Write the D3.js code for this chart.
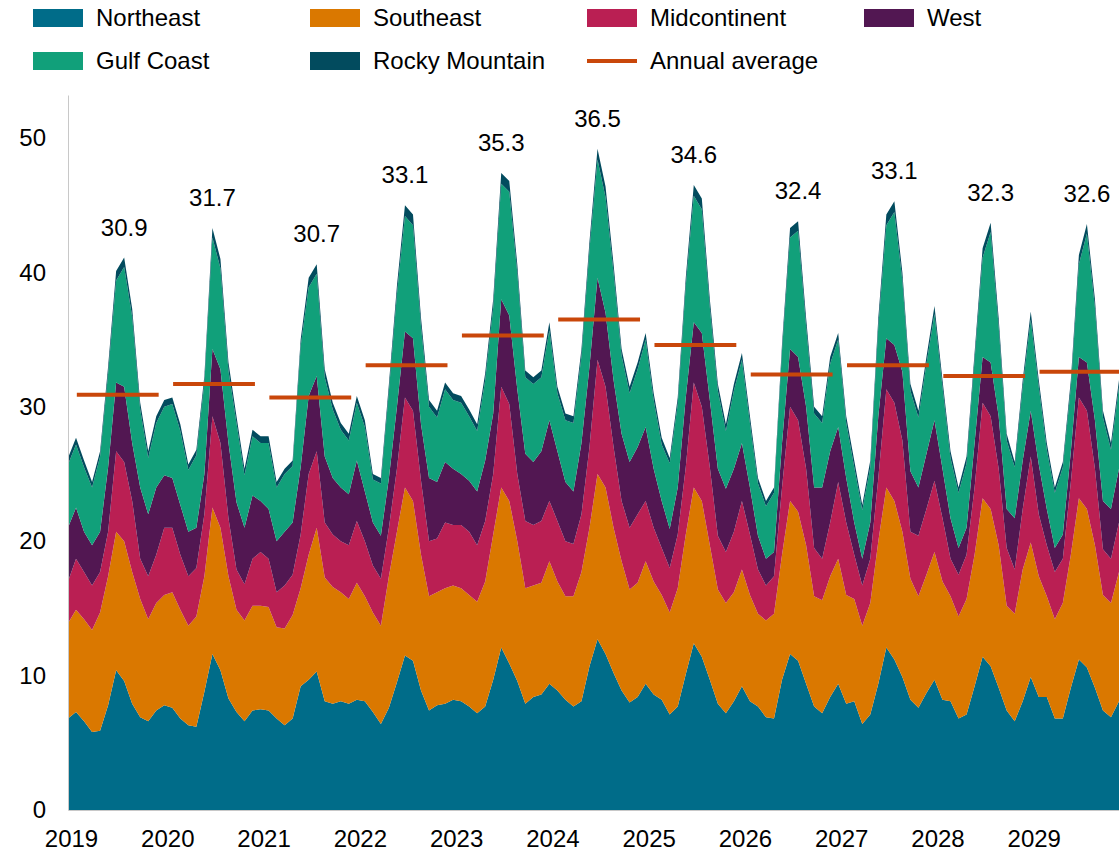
<!DOCTYPE html>
<html>
<head>
<meta charset="utf-8">
<script src="https://cdn.jsdelivr.net/npm/d3@7"></script>
<style>
  body { margin: 0; background: #fff; }
  text { font-family: "Liberation Sans", Arial, sans-serif; fill: #000; }
</style>
</head>
<body>
<div id="chart"></div>
<script>
// monthly values, Jan 2019 .. Dec 2029
var years = [2019, 2020, 2021, 2022, 2023, 2024, 2025, 2026, 2027, 2028, 2029];

var northeast = [
  6.8, 7.3, 6.6, 5.8, 5.9, 7.8, 10.4, 9.6, 7.9, 6.9, 6.6, 7.4,
  7.8, 7.6, 6.8, 6.3, 6.2, 8.8, 11.6, 10.4, 8.3, 7.3, 6.6, 7.4,
  7.5, 7.4, 6.8, 6.3, 6.8, 9.2, 9.7, 10.3, 8.1, 7.9, 8.1, 7.9,
  8.2, 8.1, 7.3, 6.4, 7.6, 9.5, 11.5, 11.1, 8.9, 7.4, 7.8, 7.9,
  8.2, 8.1, 7.7, 7.2, 7.7, 9.7, 12.1, 10.9, 9.6, 7.9, 8.4, 8.6,
  9.4, 8.9, 8.2, 7.7, 8.1, 10.7, 12.7, 11.6, 10.2, 8.9, 8.0, 8.4,
  9.4, 8.6, 8.2, 7.1, 7.7, 10.1, 12.4, 11.4, 9.7, 7.9, 7.2, 8.1,
  9.2, 8.1, 7.7, 6.9, 6.8, 9.7, 11.6, 11.1, 9.4, 7.7, 7.2, 8.4,
  9.4, 7.9, 8.1, 6.4, 7.1, 9.4, 12.1, 11.2, 9.9, 8.2, 7.6, 8.7,
  9.7, 8.2, 8.1, 6.8, 7.1, 9.2, 11.4, 10.7, 9.1, 7.4, 6.6, 8.1,
  9.9, 8.4, 8.4, 6.8, 6.8, 9.1, 11.2, 10.6, 9.1, 7.4, 6.9, 8.1
];
var southeast = [
  7.1, 7.6, 7.6, 7.6, 8.8, 9.6, 10.3, 10.4, 9.8, 8.8, 7.6, 8.0,
  8.2, 8.6, 8.1, 7.4, 8.2, 8.6, 10.9, 10.6, 9.1, 7.6, 7.5, 7.8,
  7.7, 7.7, 6.8, 7.2, 7.7, 7.3, 9.3, 10.7, 9.2, 8.7, 8.1, 7.8,
  8.7, 7.8, 7.4, 7.3, 9.8, 11.2, 12.5, 11.9, 10.1, 8.5, 8.4, 8.6,
  8.5, 8.4, 8.3, 8.3, 9.3, 10.8, 11.9, 12.1, 10.4, 8.6, 8.3, 8.3,
  9.1, 8.1, 7.7, 8.2, 9.6, 10.3, 12.3, 12.4, 10.8, 9.6, 8.4, 8.5,
  9.1, 8.4, 7.8, 7.6, 8.8, 10.4, 11.6, 11.6, 10.0, 8.5, 8.2, 8.1,
  8.7, 7.9, 6.9, 7.2, 7.8, 9.3, 11.4, 11.1, 10.3, 8.2, 8.4, 9.0,
  9.3, 8.1, 7.6, 7.3, 8.3, 10.6, 11.9, 11.8, 10.8, 9.0, 8.3, 8.8,
  9.5, 8.8, 7.8, 7.6, 8.6, 9.8, 11.8, 11.7, 10.6, 7.8, 8.0, 9.8,
  10.0, 9.0, 7.5, 7.4, 8.6, 9.9, 12.0, 11.8, 10.6, 8.6, 8.5, 9.6
];
var midcontinent = [
  3.1, 3.8, 3.5, 3.3, 3.0, 3.3, 6.0, 5.9, 5.3, 3.0, 3.2, 3.6,
  5.0, 4.8, 4.1, 3.7, 3.6, 4.6, 6.8, 6.3, 4.3, 3.0, 2.7, 3.5,
  4.0, 3.6, 2.6, 3.2, 3.0, 4.0, 6.0, 5.7, 4.1, 3.9, 3.8, 4.0,
  4.6, 4.1, 3.5, 3.5, 3.6, 4.7, 6.7, 6.7, 5.5, 4.1, 4.0, 4.9,
  4.5, 4.7, 4.7, 4.2, 4.5, 4.5, 7.5, 7.2, 5.0, 5.0, 4.5, 4.6,
  4.5, 4.5, 4.1, 3.9, 4.3, 6.0, 8.5, 7.5, 6.0, 4.5, 4.6, 5.1,
  4.5, 4.0, 3.5, 3.3, 4.0, 5.0, 7.8, 7.0, 5.8, 4.0, 3.8, 4.5,
  5.1, 4.5, 3.3, 2.6, 2.8, 5.0, 7.0, 6.8, 5.7, 3.6, 3.1, 4.0,
  5.7, 5.4, 3.3, 3.0, 3.3, 4.7, 7.3, 7.3, 6.8, 3.5, 4.5, 4.9,
  5.3, 4.7, 2.8, 3.1, 3.3, 5.0, 7.1, 6.9, 5.7, 4.3, 3.3, 4.5,
  6.4, 4.6, 3.8, 3.5, 3.3, 5.4, 7.5, 7.3, 5.7, 3.4, 3.3, 3.7
];
var west = [
  4.0, 3.8, 3.0, 3.0, 3.0, 4.8, 5.1, 5.6, 4.3, 5.3, 4.6, 5.0,
  3.9, 3.7, 3.7, 3.3, 3.0, 3.0, 5.0, 5.5, 5.6, 5.0, 4.2, 4.7,
  3.8, 3.7, 3.8, 4.0, 3.9, 5.0, 5.8, 5.6, 4.9, 4.2, 4.0, 3.8,
  4.5, 3.7, 3.2, 3.2, 3.7, 4.6, 4.9, 5.4, 4.2, 4.7, 4.2, 4.5,
  4.2, 3.8, 3.8, 4.0, 4.5, 4.5, 6.5, 6.6, 6.3, 5.0, 4.7, 5.2,
  6.0, 5.2, 4.4, 3.9, 5.3, 6.0, 6.1, 5.5, 5.0, 5.0, 4.9, 5.0,
  5.5, 4.4, 3.5, 2.9, 3.5, 5.2, 4.5, 5.5, 5.0, 5.0, 4.7, 4.7,
  4.3, 3.5, 2.5, 2.0, 1.8, 3.3, 4.3, 4.7, 4.6, 4.5, 5.3, 5.3,
  4.1, 3.3, 2.4, 2.0, 2.7, 4.6, 3.8, 4.3, 5.1, 4.5, 3.6, 4.1,
  4.5, 3.7, 3.0, 2.0, 2.0, 3.3, 3.4, 4.0, 3.9, 2.9, 3.8, 3.6,
  3.4, 3.7, 2.7, 1.8, 1.8, 2.3, 3.0, 3.6, 3.6, 3.6, 3.7, 4.0
];
var gulfCoast = [
  4.7, 4.7, 4.8, 4.3, 5.6, 7.0, 7.6, 8.9, 9.4, 5.8, 4.2, 4.8,
  5.1, 5.5, 5.5, 4.6, 5.4, 6.8, 8.3, 7.5, 5.4, 5.9, 3.9, 4.4,
  4.3, 4.9, 4.0, 4.3, 4.2, 9.0, 8.1, 7.6, 5.9, 5.1, 4.3, 4.0,
  4.3, 4.8, 3.2, 3.9, 6.5, 8.4, 8.6, 8.4, 7.3, 5.3, 4.8, 5.4,
  5.1, 5.3, 4.8, 4.5, 6.0, 7.9, 8.6, 9.2, 8.7, 5.7, 5.8, 5.5,
  6.7, 4.3, 4.6, 5.1, 6.5, 8.7, 8.8, 8.6, 8.0, 5.8, 5.1, 5.8,
  6.5, 5.1, 4.2, 4.9, 6.2, 8.3, 9.4, 9.2, 6.9, 5.8, 4.3, 5.8,
  6.2, 4.8, 3.9, 3.9, 4.4, 6.9, 8.3, 9.4, 6.0, 5.5, 4.8, 6.5,
  6.5, 4.1, 4.1, 3.6, 4.1, 6.7, 8.4, 9.9, 6.8, 6.0, 5.2, 6.7,
  7.9, 6.1, 4.5, 4.1, 4.8, 6.2, 7.4, 9.7, 6.7, 5.1, 3.8, 5.5,
  6.8, 5.8, 4.4, 4.1, 5.0, 4.8, 6.9, 9.6, 8.4, 6.2, 4.4, 6.1
];
var rockyMountain = [
  0.5, 0.5, 0.5, 0.4, 0.4, 0.5, 0.7, 0.7, 0.6, 0.5, 0.5, 0.5,
  0.5, 0.5, 0.5, 0.4, 0.4, 0.5, 0.7, 0.7, 0.6, 0.5, 0.5, 0.5,
  0.5, 0.5, 0.4, 0.4, 0.4, 0.5, 0.7, 0.7, 0.6, 0.5, 0.5, 0.5,
  0.5, 0.5, 0.4, 0.4, 0.5, 0.6, 0.8, 0.8, 0.6, 0.5, 0.5, 0.5,
  0.5, 0.5, 0.5, 0.5, 0.5, 0.6, 0.8, 0.8, 0.6, 0.5, 0.5, 0.5,
  0.6, 0.5, 0.5, 0.5, 0.5, 0.6, 0.8, 0.8, 0.6, 0.5, 0.5, 0.5,
  0.5, 0.5, 0.5, 0.4, 0.5, 0.6, 0.8, 0.8, 0.6, 0.5, 0.5, 0.5,
  0.5, 0.5, 0.4, 0.4, 0.4, 0.5, 0.7, 0.7, 0.6, 0.5, 0.5, 0.5,
  0.5, 0.5, 0.5, 0.4, 0.5, 0.6, 0.8, 0.8, 0.6, 0.5, 0.5, 0.5,
  0.6, 0.5, 0.5, 0.4, 0.5, 0.5, 0.7, 0.7, 0.6, 0.5, 0.4, 0.5,
  0.6, 0.5, 0.5, 0.4, 0.4, 0.5, 0.7, 0.7, 0.6, 0.5, 0.5, 0.5
];

var annualAverage = [30.9, 31.7, 30.7, 33.1, 35.3, 36.5, 34.6, 32.4, 33.1, 32.3, 32.6];

var regions = ["Northeast", "Southeast", "Midcontinent", "West", "Gulf Coast", "Rocky Mountain"];
var regionValues = [northeast, southeast, midcontinent, west, gulfCoast, rockyMountain];
var colors = ["#006c89", "#da7800", "#ba1f53", "#521752", "#11a07a", "#024b5e"];
var avgColor = "#c9470a";

var table = northeast.map(function (d, i) {
  var row = {};
  regions.forEach(function (r, j) { row[r] = regionValues[j][i]; });
  return row;
});

var w = 1119, h = 853;
var svg = d3.select("#chart").append("svg")
  .attr("width", w)
  .attr("height", h);

var plotLeft = 68, plotRight = 1119, plotBottom = 810, plotTop = 95;
var xscale = d3.scaleLinear().domain([0, table.length - 1]).range([plotLeft, plotRight]);
var yscale = d3.scaleLinear().domain([0, 53.2]).range([plotBottom, plotTop]);

var stack = d3.stack().keys(regions);
var series = stack(table);

var area = d3.area()
  .x(function (d, i) { return xscale(i); })
  .y0(function (d) { return yscale(d[0]); })
  .y1(function (d) { return yscale(d[1]); });

svg.append("g").selectAll("path")
  .data(series)
  .enter().append("path")
  .attr("d", area)
  .attr("fill", function (d, i) { return colors[i]; });

// axes
var yaxis = d3.axisLeft(yscale)
  .tickValues([0, 10, 20, 30, 40, 50])
  .tickSize(0)
  .tickPadding(22);
var gy = svg.append("g")
  .attr("transform", "translate(" + plotLeft + ",0)")
  .call(yaxis);
gy.select(".domain").attr("stroke", "#c8c8c8");
gy.selectAll("text").style("font-size", "24px").style("font-family", '"Liberation Sans", Arial, sans-serif');

var xaxis = d3.axisBottom(xscale)
  .tickValues(years.map(function (y, k) { return k * 12; }))
  .tickFormat(function (v) { return years[v / 12]; })
  .tickSize(0)
  .tickPadding(20);
var gx = svg.append("g")
  .attr("transform", "translate(0," + plotBottom + ")")
  .call(xaxis);
gx.select(".domain").attr("stroke", "#c8c8c8");
gx.selectAll("text")
  .attr("dx", 3)
  .style("font-size", "24px").style("font-family", '"Liberation Sans", Arial, sans-serif');

// annual average lines and labels
var totals = table.map(function (row) {
  return d3.sum(regions, function (r) { return row[r]; });
});

svg.append("g").selectAll("line")
  .data(annualAverage)
  .enter().append("line")
  .attr("x1", function (d, k) { return xscale(k * 12 + 1.1); })
  .attr("x2", function (d, k) { return xscale(k * 12 + 11.3); })
  .attr("y1", function (d) { return yscale(d); })
  .attr("y2", function (d) { return yscale(d); })
  .attr("stroke", avgColor)
  .attr("stroke-width", 4);

svg.append("g").selectAll("text")
  .data(annualAverage)
  .enter().append("text")
  .attr("x", function (d, k) {
    var yr = totals.slice(k * 12, k * 12 + 12);
    return xscale(k * 12 + d3.maxIndex(yr));
  })
  .attr("y", function (d, k) {
    var yr = totals.slice(k * 12, k * 12 + 12);
    return yscale(d3.max(yr)) - 22;
  })
  .attr("text-anchor", "middle")
  .style("font-size", "24px")
  .text(function (d) { return d.toFixed(1); });

// legend
var legendCols = [33, 310, 587, 864];
var legendRows = [18, 61];
var legendItems = regions.map(function (r, i) { return { name: r, color: colors[i], type: "rect" }; });
legendItems.push({ name: "Annual average", color: avgColor, type: "line" });

var lg = svg.append("g").selectAll("g")
  .data(legendItems)
  .enter().append("g")
  .attr("transform", function (d, i) {
    return "translate(" + legendCols[i % 4] + "," + legendRows[Math.floor(i / 4)] + ")";
  });

lg.filter(function (d) { return d.type === "rect"; })
  .append("rect")
  .attr("x", 0).attr("y", -9)
  .attr("width", 50).attr("height", 18)
  .attr("fill", function (d) { return d.color; });

lg.filter(function (d) { return d.type === "line"; })
  .append("line")
  .attr("x1", 0).attr("x2", 50)
  .attr("y1", 0).attr("y2", 0)
  .attr("stroke", function (d) { return d.color; })
  .attr("stroke-width", 4);

lg.append("text")
  .attr("x", 63)
  .attr("dy", "0.35em")
  .style("font-size", "24px")
  .text(function (d) { return d.name; });
</script>
</body>
</html>
